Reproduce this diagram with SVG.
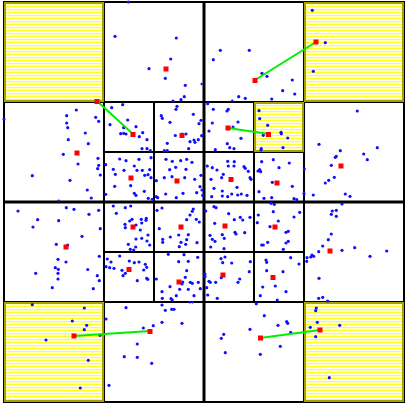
<svg xmlns="http://www.w3.org/2000/svg" width="405" height="403" viewBox="0 0 405 403">
<defs>
<pattern id="hatch" patternUnits="userSpaceOnUse" x="0" y="0" width="6" height="3">
<rect x="0" y="0" width="6" height="1" fill="#ffff00" fill-opacity="0.85"/>
<rect x="0" y="1" width="6" height="1" fill="#ffff60" fill-opacity="0.45"/>
</pattern>
<style>
.g{stroke:#000;stroke-width:2;fill:none}
.g3{stroke:#000;stroke-width:3;fill:none}
.y{fill:url(#hatch);stroke:#a6a000;stroke-width:2}
.d{fill:#1010ff}
.r{fill:#ff0000}
.c{stroke:#00ee00;stroke-width:2;fill:none}
</style>
</defs>
<rect x="0" y="0" width="405" height="403" fill="#fff"/>
<g id="grid">
<rect class="g" x="4" y="2" width="400" height="400"/>
<line class="g" x1="104" y1="2" x2="104" y2="402"/>
<line class="g" x1="304" y1="2" x2="304" y2="402"/>
<line class="g" x1="4" y1="102" x2="404" y2="102"/>
<line class="g" x1="4" y1="302" x2="404" y2="302"/>
<line class="g" x1="154" y1="102" x2="154" y2="302"/>
<line class="g" x1="254" y1="102" x2="254" y2="302"/>
<line class="g" x1="104" y1="152" x2="304" y2="152"/>
<line class="g" x1="104" y1="252" x2="304" y2="252"/>
<line class="g3" x1="204" y1="2" x2="204" y2="402"/>
<line class="g3" x1="4" y1="202" x2="404" y2="202"/>
</g>
<g id="hatched-cells">
<rect id="cell-tl" class="y" x="5" y="3" width="98" height="98"/>
<rect id="cell-tr" class="y" x="305" y="3" width="98" height="98"/>
<rect id="cell-bl" class="y" x="5" y="303" width="98" height="98"/>
<rect id="cell-br" class="y" x="305" y="303" width="98" height="98"/>
<rect id="cell-small" class="y" x="255" y="103" width="48" height="48"/>
</g>
<g id="points">
<circle class="d" r="1.6" cx="128.3" cy="2"/><circle class="d" r="1.6" cx="115" cy="36.3"/><circle class="d" r="1.6" cx="76.3" cy="110"/><circle class="d" r="1.6" cx="111.7" cy="107.7"/><circle class="d" r="1.6" cx="122.7" cy="104.7"/><circle class="d" r="1.6" cx="66.7" cy="115.7"/><circle class="d" r="1.6" cx="95.7" cy="117.3"/><circle class="d" r="1.6" cx="98.7" cy="121.3"/><circle class="d" r="1.6" cx="66.7" cy="123"/><circle class="d" r="1.6" cx="67.7" cy="127.7"/><circle class="d" r="1.6" cx="110" cy="124.7"/><circle class="d" r="1.6" cx="127.7" cy="120"/><circle class="d" r="1.6" cx="123.7" cy="127.7"/><circle class="d" r="1.6" cx="85.3" cy="133"/><circle class="d" r="1.6" cx="120.7" cy="133.7"/><circle class="d" r="1.6" cx="123.7" cy="133.3"/><circle class="d" r="1.6" cx="126" cy="134"/><circle class="d" r="1.6" cx="4" cy="119"/>
<circle class="d" r="1.6" cx="176.3" cy="38"/><circle class="d" r="1.6" cx="170.7" cy="59"/><circle class="d" r="1.6" cx="149" cy="68.7"/><circle class="d" r="1.6" cx="165.3" cy="78.3"/><circle class="d" r="1.6" cx="185.3" cy="85.3"/><circle class="d" r="1.6" cx="184.3" cy="96.7"/><circle class="d" r="1.6" cx="181" cy="99.7"/><circle class="d" r="1.6" cx="173" cy="101"/><circle class="d" r="1.2" cx="201.7" cy="84"/><circle class="d" r="1.6" cx="220.3" cy="50.3"/><circle class="d" r="1.6" cx="249.3" cy="50.3"/><circle class="d" r="1.6" cx="213.3" cy="59.7"/><circle class="d" r="1.6" cx="262" cy="73.3"/><circle class="d" r="1.6" cx="267" cy="76.3"/><circle class="d" r="1.6" cx="238.7" cy="96.7"/><circle class="d" r="1.6" cx="245.3" cy="98.3"/><circle class="d" r="1.2" cx="232.3" cy="100.7"/><circle class="d" r="1.6" cx="177" cy="106.3"/><circle class="d" r="1.6" cx="176" cy="109.3"/><circle class="d" r="1.6" cx="161.3" cy="115.7"/><circle class="d" r="1.6" cx="162.3" cy="118.3"/><circle class="d" r="1.6" cx="170" cy="122.3"/><circle class="d" r="1.6" cx="193.3" cy="114.3"/><circle class="d" r="1.6" cx="201" cy="120.3"/><circle class="d" r="1.6" cx="199" cy="123.7"/><circle class="d" r="1.6" cx="136" cy="126.7"/><circle class="d" r="1.6" cx="142.7" cy="132.7"/><circle class="d" r="1.6" cx="182" cy="134"/><circle class="d" r="1.6" cx="186" cy="134"/><circle class="d" r="1.6" cx="207.7" cy="103.7"/><circle class="d" r="1.6" cx="213.3" cy="109.3"/><circle class="d" r="1.6" cx="228.3" cy="109.3"/><circle class="d" r="1.6" cx="227" cy="111"/><circle class="d" r="1.6" cx="212.3" cy="123"/><circle class="d" r="1.6" cx="238" cy="122"/><circle class="d" r="1.6" cx="209" cy="131"/><circle class="d" r="1.6" cx="233" cy="127"/><circle class="d" r="1.6" cx="259" cy="110.7"/><circle class="d" r="1.6" cx="259.7" cy="118.7"/><circle class="d" r="1.6" cx="267.7" cy="125.3"/><circle class="d" r="1.6" cx="281" cy="132.3"/><circle class="d" r="1.6" cx="281.3" cy="133.7"/><circle class="d" r="1.6" cx="263.3" cy="135.3"/><circle class="d" r="1.6" cx="261.3" cy="148.7"/><circle class="d" r="1.6" cx="261" cy="150"/>
<circle class="d" r="1.6" cx="312.3" cy="10.3"/><circle class="d" r="1.6" cx="325.3" cy="42.7"/><circle class="d" r="1.6" cx="313.3" cy="71.3"/><circle class="d" r="1.6" cx="292.3" cy="80"/><circle class="d" r="1.6" cx="282.7" cy="90.7"/><circle class="d" r="1.6" cx="294.7" cy="94"/><circle class="d" r="1.6" cx="271.7" cy="99"/><circle class="d" r="1.6" cx="357.3" cy="111"/>
<circle class="d" r="1.6" cx="68.3" cy="139.7"/><circle class="d" r="1.6" cx="88.3" cy="143.7"/><circle class="d" r="1.6" cx="63.3" cy="154.3"/><circle class="d" r="1.6" cx="98" cy="158.3"/><circle class="d" r="1.6" cx="78" cy="164"/><circle class="d" r="1.6" cx="98.7" cy="165.3"/><circle class="d" r="1.6" cx="97.7" cy="168.7"/><circle class="d" r="1.6" cx="105.7" cy="164.7"/><circle class="d" r="1.6" cx="100.3" cy="175"/><circle class="d" r="1.6" cx="32.3" cy="175.7"/><circle class="d" r="1.6" cx="70" cy="180.3"/><circle class="d" r="1.6" cx="119.7" cy="159"/><circle class="d" r="1.6" cx="126" cy="160.7"/><circle class="d" r="1.6" cx="113.3" cy="169.3"/><circle class="d" r="1.6" cx="124" cy="170.3"/><circle class="d" r="1.6" cx="115.3" cy="174.3"/><circle class="d" r="1.6" cx="134.3" cy="166"/><circle class="d" r="1.6" cx="130.7" cy="185.7"/><circle class="d" r="1.6" cx="114.7" cy="186.3"/><circle class="d" r="1.6" cx="87.3" cy="190"/><circle class="d" r="1.6" cx="91.3" cy="198"/><circle class="d" r="1.6" cx="105.7" cy="194.3"/><circle class="d" r="1.6" cx="134.3" cy="193.3"/><circle class="d" r="1.2" cx="58.7" cy="200.7"/><circle class="d" r="1.6" cx="18" cy="211"/><circle class="d" r="1.6" cx="66.3" cy="207.7"/><circle class="d" r="1.6" cx="74" cy="209.3"/><circle class="d" r="1.6" cx="98.7" cy="210.3"/><circle class="d" r="1.6" cx="89" cy="214.3"/><circle class="d" r="1.6" cx="37.7" cy="219.7"/><circle class="d" r="1.6" cx="58.7" cy="220.7"/><circle class="d" r="1.6" cx="33" cy="227"/><circle class="d" r="1.6" cx="100.3" cy="228.7"/><circle class="d" r="1.6" cx="82" cy="236.3"/><circle class="d" r="1.6" cx="56.3" cy="244.3"/><circle class="d" r="1.6" cx="67.7" cy="245"/><circle class="d" r="1.6" cx="99.3" cy="256.3"/><circle class="d" r="1.6" cx="58" cy="259.3"/><circle class="d" r="1.6" cx="66" cy="262"/><circle class="d" r="1.6" cx="55.3" cy="267.7"/><circle class="d" r="1.6" cx="58.3" cy="269.3"/><circle class="d" r="1.6" cx="87.7" cy="269.5"/><circle class="d" r="1.6" cx="113.3" cy="206"/><circle class="d" r="1.6" cx="125.3" cy="207.7"/><circle class="d" r="1.6" cx="130.7" cy="206"/><circle class="d" r="1.6" cx="116.3" cy="213.3"/><circle class="d" r="1.6" cx="132" cy="219.3"/><circle class="d" r="1.6" cx="129.7" cy="221"/><circle class="d" r="1.6" cx="125" cy="224.3"/><circle class="d" r="1.6" cx="125.3" cy="227.7"/><circle class="d" r="1.6" cx="128.3" cy="244.3"/><circle class="d" r="1.6" cx="130.3" cy="249.3"/><circle class="d" r="1.6" cx="133.7" cy="250"/><circle class="d" r="1.6" cx="107.3" cy="259"/><circle class="d" r="1.6" cx="111" cy="262"/><circle class="d" r="1.6" cx="109.7" cy="267.7"/><circle class="d" r="1.6" cx="106" cy="266.7"/><circle class="d" r="1.6" cx="119.7" cy="256"/><circle class="d" r="1.6" cx="129.3" cy="261"/><circle class="d" r="1.6" cx="134.3" cy="262.7"/><circle class="d" r="1.6" cx="114" cy="268.3"/><circle class="d" r="1.6" cx="122" cy="270.3"/>
<circle class="d" r="1.6" cx="147" cy="139.7"/><circle class="d" r="1.6" cx="139.3" cy="136.7"/><circle class="d" r="1.6" cx="142" cy="148.7"/><circle class="d" r="1.6" cx="147" cy="148.7"/><circle class="d" r="1.6" cx="150.3" cy="150.7"/><circle class="d" r="1.6" cx="167.3" cy="143.3"/><circle class="d" r="1.6" cx="164.3" cy="150.7"/><circle class="d" r="1.6" cx="167.3" cy="150.7"/><circle class="d" r="1.6" cx="188.7" cy="148.7"/><circle class="d" r="1.6" cx="194" cy="140"/><circle class="d" r="1.6" cx="198.3" cy="139.7"/><circle class="d" r="1.6" cx="195" cy="142.3"/><circle class="d" r="1.6" cx="190" cy="141.7"/><circle class="d" r="1.6" cx="175.3" cy="135.5"/><circle class="d" r="1.6" cx="201.7" cy="135.7"/><circle class="d" r="1.6" cx="215.3" cy="149.7"/><circle class="d" r="1.6" cx="229.7" cy="147.7"/><circle class="d" r="1.6" cx="234" cy="148.7"/><circle class="d" r="1.6" cx="227.3" cy="143.7"/><circle class="d" r="1.6" cx="241" cy="138.3"/>
<circle class="d" r="1.6" cx="151" cy="157.7"/><circle class="d" r="1.6" cx="139" cy="159.3"/><circle class="d" r="1.6" cx="137" cy="170.3"/><circle class="d" r="1.6" cx="142.3" cy="170.3"/><circle class="d" r="1.6" cx="149.7" cy="169.7"/><circle class="d" r="1.6" cx="148" cy="174.7"/><circle class="d" r="1.6" cx="151" cy="177.7"/><circle class="d" r="1.6" cx="144.7" cy="175.3"/><circle class="d" r="1.6" cx="156.3" cy="180.7"/><circle class="d" r="1.6" cx="144.3" cy="191.3"/><circle class="d" r="1.6" cx="136" cy="195.3"/><circle class="d" r="1.6" cx="156.3" cy="196.7"/><circle class="d" r="1.6" cx="157.7" cy="197.7"/><circle class="d" r="1.6" cx="148.3" cy="198.3"/><circle class="d" r="1.6" cx="152.3" cy="199.3"/>
<circle class="d" r="1.6" cx="166" cy="159.3"/><circle class="d" r="1.6" cx="172.3" cy="161.3"/><circle class="d" r="1.6" cx="180.7" cy="160.7"/><circle class="d" r="1.6" cx="186.7" cy="159.3"/><circle class="d" r="1.6" cx="175.7" cy="167.3"/><circle class="d" r="1.6" cx="169.7" cy="169.7"/><circle class="d" r="1.6" cx="186" cy="169.3"/><circle class="d" r="1.6" cx="172" cy="176.7"/><circle class="d" r="1.6" cx="184.7" cy="177.7"/><circle class="d" r="1.6" cx="194.7" cy="179.3"/><circle class="d" r="1.6" cx="164.3" cy="177.7"/><circle class="d" r="1.6" cx="200" cy="186.7"/><circle class="d" r="1.6" cx="165.7" cy="194"/><circle class="d" r="1.6" cx="176.3" cy="197.7"/><circle class="d" r="1.6" cx="183" cy="193.3"/><circle class="d" r="1.6" cx="196.7" cy="192.7"/><circle class="d" r="1.6" cx="202" cy="190"/><circle class="d" r="1.6" cx="202.7" cy="195.3"/><circle class="d" r="1.6" cx="201" cy="175.3"/><circle class="d" r="1.6" cx="192" cy="162.3"/>
<circle class="d" r="1.6" cx="207.3" cy="166"/><circle class="d" r="1.6" cx="212.3" cy="167.7"/><circle class="d" r="1.6" cx="217" cy="170"/><circle class="d" r="1.6" cx="223.3" cy="174.3"/><circle class="d" r="1.6" cx="221.7" cy="177.7"/><circle class="d" r="1.6" cx="211" cy="179.3"/><circle class="d" r="1.6" cx="227.7" cy="161.3"/><circle class="d" r="1.6" cx="234.3" cy="161.7"/><circle class="d" r="1.6" cx="234" cy="166"/><circle class="d" r="1.6" cx="228.3" cy="166"/><circle class="d" r="1.6" cx="244" cy="166.7"/><circle class="d" r="1.6" cx="245.3" cy="168.3"/><circle class="d" r="1.6" cx="248.3" cy="171.3"/><circle class="d" r="1.6" cx="250" cy="177.7"/><circle class="d" r="1.6" cx="251" cy="179.3"/><circle class="d" r="1.6" cx="237" cy="187.3"/><circle class="d" r="1.6" cx="222.3" cy="191"/><circle class="d" r="1.6" cx="211.7" cy="196.7"/><circle class="d" r="1.6" cx="214" cy="188.3"/><circle class="d" r="1.6" cx="237.7" cy="195"/><circle class="d" r="1.6" cx="241.3" cy="194"/><circle class="d" r="1.6" cx="247" cy="195.3"/><circle class="d" r="1.6" cx="231.7" cy="194"/><circle class="d" r="1.6" cx="227.7" cy="196.7"/><circle class="d" r="1.6" cx="222.3" cy="196"/>
<circle class="d" r="1.6" cx="261.7" cy="161.7"/><circle class="d" r="1.6" cx="259.7" cy="169.7"/><circle class="d" r="1.6" cx="258" cy="171"/><circle class="d" r="1.6" cx="260.7" cy="171.7"/><circle class="d" r="1.6" cx="259" cy="191.7"/><circle class="d" r="1.6" cx="264" cy="198.3"/>
<circle class="d" r="1.6" cx="141.3" cy="219.3"/><circle class="d" r="1.6" cx="146.3" cy="218.3"/><circle class="d" r="1.6" cx="146" cy="220.3"/><circle class="d" r="1.6" cx="141.7" cy="223"/><circle class="d" r="1.6" cx="136" cy="225"/><circle class="d" r="1.6" cx="140.3" cy="230"/><circle class="d" r="1.6" cx="141.7" cy="238.3"/><circle class="d" r="1.6" cx="148" cy="235"/><circle class="d" r="1.6" cx="147" cy="241"/><circle class="d" r="1.6" cx="136" cy="239"/><circle class="d" r="1.6" cx="135.7" cy="247"/><circle class="d" r="1.6" cx="149.7" cy="245"/>
<circle class="d" r="1.6" cx="162" cy="208"/><circle class="d" r="1.6" cx="157" cy="210.3"/><circle class="d" r="1.6" cx="193.3" cy="209"/><circle class="d" r="1.6" cx="192.3" cy="211.3"/><circle class="d" r="1.6" cx="190" cy="215"/><circle class="d" r="1.6" cx="186.7" cy="219.7"/><circle class="d" r="1.6" cx="196.3" cy="219.3"/><circle class="d" r="1.6" cx="199.3" cy="222"/><circle class="d" r="1.6" cx="159.3" cy="228.7"/><circle class="d" r="1.6" cx="170.3" cy="237"/><circle class="d" r="1.6" cx="178.7" cy="235"/><circle class="d" r="1.6" cx="188.3" cy="234.7"/><circle class="d" r="1.6" cx="186.7" cy="239.7"/><circle class="d" r="1.6" cx="181" cy="242.3"/><circle class="d" r="1.6" cx="185.7" cy="244.3"/><circle class="d" r="1.6" cx="162.7" cy="239.3"/><circle class="d" r="1.6" cx="162.7" cy="242.3"/><circle class="d" r="1.6" cx="179.3" cy="246.7"/><circle class="d" r="1.6" cx="197" cy="242.7"/>
<circle class="d" r="1.6" cx="205.7" cy="211"/><circle class="d" r="1.6" cx="214" cy="206.7"/><circle class="d" r="1.6" cx="216" cy="207.7"/><circle class="d" r="1.6" cx="228.7" cy="213.7"/><circle class="d" r="1.6" cx="234.3" cy="219.7"/><circle class="d" r="1.6" cx="240.3" cy="217.3"/><circle class="d" r="1.6" cx="242.7" cy="220"/><circle class="d" r="1.6" cx="250" cy="217.3"/><circle class="d" r="1.6" cx="214.7" cy="223.3"/><circle class="d" r="1.6" cx="210" cy="235.3"/><circle class="d" r="1.6" cx="212.3" cy="239.3"/><circle class="d" r="1.6" cx="215" cy="241.3"/><circle class="d" r="1.6" cx="222.3" cy="234.7"/><circle class="d" r="1.6" cx="224.3" cy="238.3"/><circle class="d" r="1.6" cx="235" cy="232.3"/><circle class="d" r="1.6" cx="236" cy="234"/><circle class="d" r="1.6" cx="244.7" cy="232.7"/><circle class="d" r="1.6" cx="224" cy="248.7"/><circle class="d" r="1.6" cx="210.7" cy="247"/>
<circle class="d" r="1.6" cx="258.3" cy="215"/><circle class="d" r="1.6" cx="257.3" cy="222.7"/><circle class="d" r="1.6" cx="261.7" cy="245"/><circle class="d" r="1.6" cx="263.3" cy="245"/><circle class="d" r="1.6" cx="267.7" cy="242.3"/>
<circle class="d" r="1.6" cx="139" cy="262"/><circle class="d" r="1.6" cx="145.3" cy="264.3"/><circle class="d" r="1.6" cx="146.7" cy="267.3"/><circle class="d" r="1.6" cx="168.3" cy="254.3"/><circle class="d" r="1.6" cx="184" cy="254.7"/><circle class="d" r="1.6" cx="178.7" cy="261.7"/><circle class="d" r="1.6" cx="188.3" cy="261.3"/><circle class="d" r="1.6" cx="197.7" cy="257.3"/><circle class="d" r="1.6" cx="221" cy="258.7"/><circle class="d" r="1.6" cx="225" cy="257"/><circle class="d" r="1.6" cx="231.7" cy="263"/><circle class="d" r="1.6" cx="250.3" cy="261.7"/><circle class="d" r="1.6" cx="222.7" cy="262.7"/><circle class="d" r="1.6" cx="266" cy="260"/><circle class="d" r="1.6" cx="266.7" cy="262.3"/>
<circle class="d" r="1.6" cx="287.7" cy="138"/><circle class="d" r="1.6" cx="283" cy="147.7"/><circle class="d" r="1.6" cx="273.3" cy="159.7"/><circle class="d" r="1.6" cx="289.3" cy="163"/><circle class="d" r="1.6" cx="279" cy="167.7"/><circle class="d" r="1.6" cx="272.3" cy="182.3"/><circle class="d" r="1.6" cx="292.3" cy="186.3"/><circle class="d" r="1.6" cx="271.7" cy="197.7"/><circle class="d" r="1.6" cx="294" cy="198.7"/><circle class="d" r="1.6" cx="296.7" cy="199.7"/><circle class="d" r="1.6" cx="274.3" cy="204.3"/><circle class="d" r="1.6" cx="271" cy="203.3"/><circle class="d" r="1.6" cx="304.3" cy="169"/><circle class="d" r="1.6" cx="304" cy="193.7"/><circle class="d" r="1.6" cx="319" cy="144.3"/><circle class="d" r="1.6" cx="340.3" cy="150.7"/><circle class="d" r="1.6" cx="336.3" cy="156.3"/><circle class="d" r="1.6" cx="335.3" cy="157.3"/><circle class="d" r="1.6" cx="363.7" cy="154"/><circle class="d" r="1.6" cx="367.3" cy="159.7"/><circle class="d" r="1.6" cx="377.3" cy="147.7"/><circle class="d" r="1.6" cx="331.3" cy="165.3"/><circle class="d" r="1.6" cx="334.3" cy="177.3"/><circle class="d" r="1.6" cx="328.7" cy="180.3"/><circle class="d" r="1.6" cx="325.3" cy="183"/><circle class="d" r="1.6" cx="313.3" cy="195"/><circle class="d" r="1.6" cx="345.3" cy="194"/><circle class="d" r="1.6" cx="350" cy="196.3"/><circle class="d" r="1.6" cx="342" cy="204"/><circle class="d" r="1.6" cx="273.3" cy="211.7"/><circle class="d" r="1.6" cx="278.3" cy="221"/><circle class="d" r="1.6" cx="294" cy="217"/><circle class="d" r="1.6" cx="299.7" cy="212.3"/><circle class="d" r="1.6" cx="270" cy="226.7"/><circle class="d" r="1.6" cx="286" cy="232.3"/><circle class="d" r="1.6" cx="288.3" cy="231.3"/><circle class="d" r="1.6" cx="286" cy="243"/><circle class="d" r="1.6" cx="288.3" cy="241.3"/><circle class="d" r="1.6" cx="283.3" cy="249.3"/><circle class="d" r="1.6" cx="290.7" cy="257.7"/><circle class="d" r="1.6" cx="299" cy="264"/><circle class="d" r="1.6" cx="332.3" cy="211"/><circle class="d" r="1.6" cx="336.3" cy="210.3"/><circle class="d" r="1.6" cx="331.3" cy="214.3"/><circle class="d" r="1.6" cx="336.3" cy="216.3"/><circle class="d" r="1.6" cx="331.3" cy="234"/><circle class="d" r="1.6" cx="328.3" cy="239.7"/><circle class="d" r="1.6" cx="322.7" cy="246"/><circle class="d" r="1.6" cx="318.7" cy="251.7"/><circle class="d" r="1.6" cx="342" cy="250.3"/><circle class="d" r="1.6" cx="354.7" cy="247.7"/><circle class="d" r="1.6" cx="386.7" cy="251"/><circle class="d" r="1.6" cx="370" cy="256.3"/><circle class="d" r="1.6" cx="312" cy="255"/><circle class="d" r="1.6" cx="313.7" cy="256.3"/><circle class="d" r="1.6" cx="310.7" cy="257"/><circle class="d" r="1.6" cx="307" cy="257.7"/><circle class="d" r="1.6" cx="306.7" cy="261.3"/>
<circle class="d" r="1.6" cx="35.7" cy="273.3"/><circle class="d" r="1.6" cx="58" cy="273.3"/><circle class="d" r="1.6" cx="58" cy="279"/><circle class="d" r="1.6" cx="52.3" cy="287.7"/><circle class="d" r="1.6" cx="97.3" cy="275.7"/><circle class="d" r="1.6" cx="99.3" cy="280.7"/><circle class="d" r="1.6" cx="93.3" cy="288.7"/><circle class="d" r="1.6" cx="125.3" cy="273.3"/><circle class="d" r="1.6" cx="123" cy="275.7"/><circle class="d" r="1.6" cx="32.3" cy="304.7"/><circle class="d" r="1.6" cx="84.3" cy="308"/><circle class="d" r="1.6" cx="72.3" cy="321"/><circle class="d" r="1.6" cx="86.7" cy="325.3"/><circle class="d" r="1.6" cx="84.3" cy="329.7"/><circle class="d" r="1.6" cx="46" cy="340"/><circle class="d" r="1.6" cx="100" cy="335.3"/><circle class="d" r="1.6" cx="88.3" cy="360.3"/><circle class="d" r="1.6" cx="80.3" cy="388"/><circle class="d" r="1.6" cx="126" cy="307.7"/><circle class="d" r="1.6" cx="106" cy="319"/><circle class="d" r="1.6" cx="124.3" cy="356.7"/><circle class="d" r="1.6" cx="109" cy="385.3"/>
<circle class="d" r="1.6" cx="143.7" cy="270"/><circle class="d" r="1.6" cx="146.7" cy="278.3"/><circle class="d" r="1.6" cx="147.7" cy="279.3"/><circle class="d" r="1.6" cx="137.3" cy="280.7"/><circle class="d" r="1.6" cx="156.3" cy="279"/><circle class="d" r="1.6" cx="162" cy="291.7"/><circle class="d" r="1.6" cx="162.3" cy="298.3"/><circle class="d" r="1.6" cx="170" cy="286.7"/><circle class="d" r="1.6" cx="176.3" cy="295.7"/><circle class="d" r="1.6" cx="179.7" cy="289.3"/><circle class="d" r="1.6" cx="182" cy="284"/><circle class="d" r="1.6" cx="185.3" cy="277.3"/><circle class="d" r="1.6" cx="182.7" cy="282"/><circle class="d" r="1.6" cx="190.3" cy="282.3"/><circle class="d" r="1.6" cx="192.3" cy="283.3"/><circle class="d" r="1.6" cx="198.3" cy="282.3"/><circle class="d" r="1.6" cx="188.3" cy="289.3"/><circle class="d" r="1.6" cx="194" cy="295.7"/><circle class="d" r="1.6" cx="200.3" cy="288.7"/><circle class="d" r="1.6" cx="172.3" cy="300"/><circle class="d" r="1.6" cx="171" cy="298.7"/><circle class="d" r="1.6" cx="186.7" cy="270.7"/><circle class="d" r="1.6" cx="205" cy="274"/><circle class="d" r="1.6" cx="205" cy="276.7"/><circle class="d" r="1.6" cx="209" cy="281.3"/><circle class="d" r="1.6" cx="210.3" cy="282.3"/><circle class="d" r="1.6" cx="215.7" cy="282.3"/><circle class="d" r="1.6" cx="206.7" cy="287.7"/><circle class="d" r="1.6" cx="207.7" cy="295"/><circle class="d" r="1.6" cx="217.3" cy="298.3"/><circle class="d" r="1.6" cx="221.3" cy="277.7"/><circle class="d" r="1.6" cx="239.7" cy="279"/><circle class="d" r="1.6" cx="238" cy="282.3"/><circle class="d" r="1.6" cx="249.3" cy="271.7"/><circle class="d" r="1.6" cx="262.7" cy="287"/><circle class="d" r="1.6" cx="260.3" cy="295.7"/><circle class="d" r="1.6" cx="256.3" cy="303.7"/><circle class="d" r="1.6" cx="266.7" cy="270.7"/><circle class="d" r="1.6" cx="162" cy="305"/><circle class="d" r="1.6" cx="165.3" cy="310.3"/><circle class="d" r="1.6" cx="171.7" cy="309.3"/><circle class="d" r="1.6" cx="174" cy="309.3"/><circle class="d" r="1.6" cx="162" cy="322.3"/><circle class="d" r="1.6" cx="182" cy="323.3"/><circle class="d" r="1.6" cx="153.3" cy="325.7"/><circle class="d" r="1.6" cx="143.3" cy="328"/><circle class="d" r="1.6" cx="137.3" cy="344"/><circle class="d" r="1.6" cx="137.3" cy="357.3"/><circle class="d" r="1.6" cx="151.7" cy="363.3"/><circle class="d" r="1.6" cx="264.3" cy="315.7"/><circle class="d" r="1.6" cx="250" cy="329.3"/><circle class="d" r="1.6" cx="223.7" cy="334.3"/><circle class="d" r="1.6" cx="221.3" cy="338.3"/><circle class="d" r="1.6" cx="225.3" cy="352.7"/><circle class="d" r="1.6" cx="260.3" cy="354.3"/><circle class="d" r="1.2" cx="192.7" cy="302.3"/><circle class="d" r="1.2" cx="189.7" cy="302.3"/>
<circle class="d" r="1.6" cx="283" cy="271.7"/><circle class="d" r="1.6" cx="275.3" cy="286"/><circle class="d" r="1.6" cx="286" cy="291.7"/><circle class="d" r="1.6" cx="277.3" cy="300"/><circle class="d" r="1.6" cx="319" cy="278.3"/><circle class="d" r="1.6" cx="318.7" cy="298.3"/><circle class="d" r="1.6" cx="322.7" cy="297.3"/><circle class="d" r="1.6" cx="327.7" cy="301"/><circle class="d" r="1.6" cx="278" cy="325.3"/><circle class="d" r="1.6" cx="286.7" cy="321.7"/><circle class="d" r="1.6" cx="287.7" cy="323.3"/><circle class="d" r="1.6" cx="280.3" cy="346.3"/><circle class="d" r="1.6" cx="290.7" cy="332.3"/><circle class="d" r="1.6" cx="316.3" cy="308"/><circle class="d" r="1.6" cx="315.7" cy="310.7"/><circle class="d" r="1.6" cx="317.3" cy="322.3"/><circle class="d" r="1.6" cx="310.3" cy="327.3"/><circle class="d" r="1.6" cx="315.7" cy="336.7"/><circle class="d" r="1.6" cx="339.7" cy="325.3"/><circle class="d" r="1.6" cx="329.3" cy="377.7"/>
</g>
<g id="connectors">
<line class="c" x1="97" y1="101" x2="134" y2="135"/>
<line class="c" x1="255" y1="80" x2="316" y2="42"/>
<line class="c" x1="228" y1="128" x2="269" y2="134"/>
<line class="c" x1="74" y1="336" x2="150" y2="331"/>
<line class="c" x1="260" y1="338" x2="320" y2="330"/>
</g>
<g id="centers">
<rect class="r" x="163.5" y="66.5" width="5" height="5"/>
<rect class="r" x="252.5" y="78" width="5" height="5"/>
<rect class="r" x="313.5" y="39.5" width="5" height="5"/>
<rect class="r" x="94.5" y="99" width="5" height="5"/>
<rect class="r" x="130.5" y="132" width="5" height="5"/>
<rect class="r" x="179.5" y="133" width="5" height="5"/>
<rect class="r" x="225.5" y="125.5" width="5" height="5"/>
<rect class="r" x="266" y="132" width="5" height="5"/>
<rect class="r" x="74.5" y="150.5" width="5" height="5"/>
<rect class="r" x="128.5" y="175.5" width="5" height="5"/>
<rect class="r" x="174.5" y="178.5" width="5" height="5"/>
<rect class="r" x="228.5" y="177" width="5" height="5"/>
<rect class="r" x="274.5" y="180.5" width="5" height="5"/>
<rect class="r" x="338.5" y="163.5" width="5" height="5"/>
<rect class="r" x="130.5" y="224.5" width="5" height="5"/>
<rect class="r" x="178.5" y="224.5" width="5" height="5"/>
<rect class="r" x="222.5" y="223.5" width="5" height="5"/>
<rect class="r" x="272.5" y="224.5" width="5" height="5"/>
<rect class="r" x="63.5" y="244.5" width="5" height="5"/>
<rect class="r" x="327.5" y="248.5" width="5" height="5"/>
<rect class="r" x="126.5" y="267" width="5" height="5"/>
<rect class="r" x="176.5" y="279.5" width="5" height="5"/>
<rect class="r" x="220.5" y="272.5" width="5" height="5"/>
<rect class="r" x="270.5" y="275" width="5" height="5"/>
<rect class="r" x="71.5" y="333.5" width="5" height="5"/>
<rect class="r" x="147.5" y="329" width="5" height="5"/>
<rect class="r" x="258" y="335.5" width="5" height="5"/>
<rect class="r" x="317.5" y="327.5" width="5" height="5"/>
</g>
</svg>
